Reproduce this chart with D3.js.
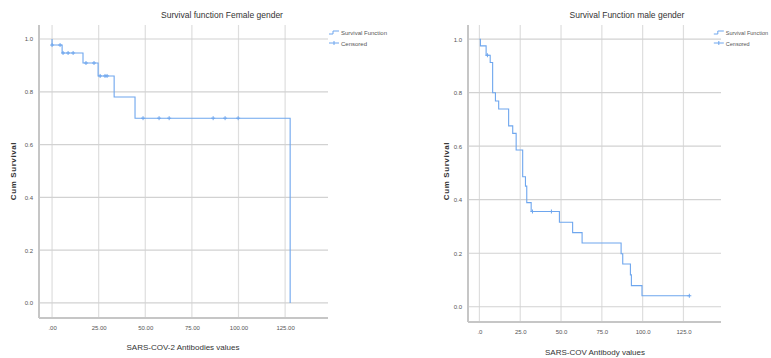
<!DOCTYPE html>
<html>
<head>
<meta charset="utf-8">
<script src="https://cdn.jsdelivr.net/npm/d3@7/dist/d3.min.js"></script>
<style>
  body { margin: 0; background: #fff; }
  text { font-family: "Liberation Sans Narrow", "Liberation Sans", Arial, sans-serif; }
</style>
</head>
<body>
<svg id="chart" width="771" height="358"></svg>
<script>
// ---- data ----
const yTicks = [0, 0.2, 0.4, 0.6, 0.8, 1.0];
const yTickLabels = ["0.0", "0.2", "0.4", "0.6", "0.8", "1.0"];
const xTicks = [0, 25, 50, 75, 100, 125];
const femaleXLabels = [".00", "25.00", "50.00", "75.00", "100.00", "125.00"];
const maleXLabels = [".0", "25.0", "50.0", "75.0", "100.0", "125.0"];

// female: event times and survival after each step
const femaleTime = [0, 0, 5.4, 16.6, 24.7, 33.3, 44.5, 127.7];
const femaleSurv = [1.0, 0.977, 0.947, 0.909, 0.86, 0.78, 0.70, 0.0];
const femaleCensTime = [0, 4.3, 5.9, 8.6, 11.3, 18.2, 22.5, 25.8, 28.4, 29.5, 48.8, 57.4, 62.8, 86.4, 92.8, 99.8];
const femaleCensSurv = [0.977, 0.977, 0.947, 0.947, 0.947, 0.909, 0.909, 0.86, 0.86, 0.86, 0.70, 0.70, 0.70, 0.70, 0.70, 0.70];

// male
const maleTime = [0, 0.6, 4.1, 6.6, 8.1, 9.8, 11.8, 17.9, 20.4, 22.5, 26.5, 28.2, 29.0, 31.7, 49.0, 57.1, 62.9, 86.8, 87.8, 92.5, 93.1, 99.6, 128.6];
const maleSurv = [1.0, 0.975, 0.94, 0.913, 0.80, 0.769, 0.739, 0.676, 0.648, 0.586, 0.486, 0.451, 0.389, 0.356, 0.316, 0.277, 0.238, 0.198, 0.16, 0.119, 0.079, 0.041, 0.041];
const maleCensTime = [4.9, 32.5, 44.1, 128.6];
const maleCensSurv = [0.94, 0.356, 0.356, 0.041];

const lineColor = "#6ea6ee";
const svg = d3.select("#chart");
const W = +svg.attr("width");

function drawPanel(p) {
  const x = d3.scaleLinear().domain([-7, 148]).range([p.left, p.right]);
  const y = d3.scaleLinear().domain([-0.057, 1.053]).range([p.bottom, p.top]);
  const g = svg.append("g");

  // grid
  g.selectAll(".vg").data(xTicks).enter().append("line")
    .attr("x1", d => x(d)).attr("x2", d => x(d))
    .attr("y1", p.top).attr("y2", p.bottom)
    .attr("stroke", "#dedede").attr("stroke-width", 1.2);
  g.selectAll(".hg").data(yTicks).enter().append("line")
    .attr("x1", p.left).attr("x2", p.right)
    .attr("y1", d => y(d)).attr("y2", d => y(d))
    .attr("stroke", "#d2d2d2").attr("stroke-width", 1.2);

  // axes lines
  g.append("line").attr("x1", p.left).attr("x2", p.left).attr("y1", p.top).attr("y2", p.bottom)
    .attr("stroke", "#c6c6c6").attr("stroke-width", 2);
  g.append("line").attr("x1", p.left).attr("x2", p.right).attr("y1", p.bottom).attr("y2", p.bottom)
    .attr("stroke", "#c6c6c6").attr("stroke-width", 2);

  // tick labels via d3 axes
  const xAxis = d3.axisBottom(x).tickValues(xTicks).tickSize(0)
    .tickFormat((d, i) => p.xLabels[i]);
  const gx = g.append("g").attr("transform", `translate(0,${p.bottom + 5})`).call(xAxis);
  gx.select(".domain").remove();
  gx.selectAll("text").attr("font-size", 6).attr("fill", "#555");

  const yAxis = d3.axisLeft(y).tickValues(yTicks).tickSize(0)
    .tickFormat((d, i) => yTickLabels[i]);
  const gy = g.append("g").attr("transform", `translate(${p.left - 3},0)`).call(yAxis);
  gy.select(".domain").remove();
  gy.selectAll("text").attr("font-size", 6).attr("fill", "#555");

  // survival step line
  const pts = p.time.map((t, i) => [t, p.surv[i]]);
  const line = d3.line().x(d => x(d[0])).y(d => y(d[1])).curve(d3.curveStepAfter);
  g.append("path").attr("d", line(pts)).attr("fill", "none")
    .attr("stroke", lineColor).attr("stroke-width", 1.1);

  // censored marks
  g.selectAll(".cens").data(p.censTime).enter().append("path")
    .attr("transform", (d, i) => `translate(${x(d)},${y(p.censSurv[i])})`)
    .attr("d", "M0,-2V2M-2,0H2")
    .attr("stroke", lineColor).attr("stroke-width", 1).attr("fill", "none");

  // titles
  g.append("text").attr("x", p.titleX).attr("y", 18).attr("text-anchor", "middle")
    .attr("font-size", 8.5).attr("fill", "#333").text(p.title);
  g.append("text").attr("x", p.xTitleX).attr("y", p.xTitleY).attr("text-anchor", "middle")
    .attr("font-size", 8).attr("fill", "#333").text(p.xTitle);
  g.append("text").attr("transform", `translate(${p.yTitleX},171) rotate(-90)`)
    .attr("text-anchor", "middle").attr("font-size", 8).attr("font-weight", "bold")
    .attr("letter-spacing", 0.6).attr("fill", "#333").text("Cum Survival");

  // legend
  const lg = g.append("g");
  lg.append("path").attr("d", "M0,34 H4 V31 H10").attr("fill", "none")
    .attr("stroke", lineColor).attr("stroke-width", 1);
  lg.append("path").attr("d", "M0,43 H10 M5,41 V45").attr("fill", "none")
    .attr("stroke", lineColor).attr("stroke-width", 1);
  const t1 = lg.append("text").attr("x", 12).attr("y", 34.5).attr("font-size", p.legendSize).attr("fill", "#555").text("Survival Function");
  lg.append("text").attr("x", 12).attr("y", 45.5).attr("font-size", p.legendSize).attr("fill", "#555").text("Censored");
  // keep legend inside the page
  const lw = 12 + t1.node().getComputedTextLength();
  const lx = Math.min(p.legendX, W - 3 - lw);
  lg.attr("transform", `translate(${lx},0)`);
}

drawPanel({
  left: 39, right: 328, top: 25, bottom: 318,
  xLabels: femaleXLabels, time: femaleTime, surv: femaleSurv,
  censTime: femaleCensTime, censSurv: femaleCensSurv,
  title: "Survival function Female gender", titleX: 222,
  xTitle: "SARS-COV-2 Antibodies values", xTitleX: 183, xTitleY: 350,
  yTitleX: 16, legendX: 329, legendSize: 6
});

drawPanel({
  left: 468, right: 721, top: 25, bottom: 322,
  xLabels: maleXLabels, time: maleTime, surv: maleSurv,
  censTime: maleCensTime, censSurv: maleCensSurv,
  title: "Survival Function male gender", titleX: 627,
  xTitle: "SARS-COV Antibody values", xTitleX: 595, xTitleY: 355,
  yTitleX: 449, legendX: 721, legendSize: 5.5
});
</script>
</body>
</html>
